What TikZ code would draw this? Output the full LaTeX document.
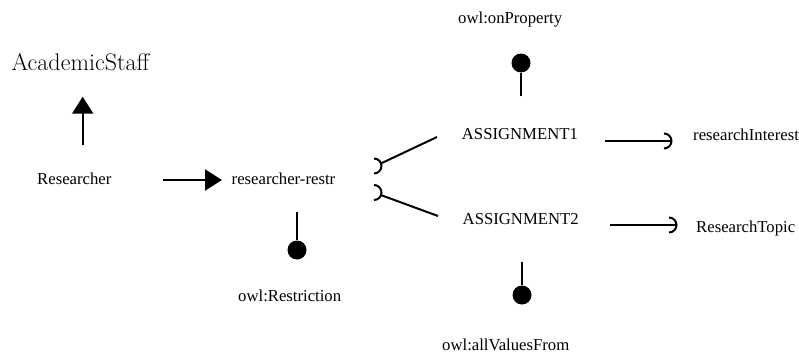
\documentclass[tikz,border=0pt]{standalone}
\usepackage{fontspec}
\newfontfamily\tnr{Liberation Serif}
\usetikzlibrary{arrows.meta}
\begin{document}
\begin{tikzpicture}[x=1pt,y=-1pt,
  lbl/.style={inner sep=0pt,anchor=base west,font=\tnr\fontsize{16.7}{20}\selectfont},
  biglbl/.style={inner sep=0pt,anchor=base west,font=\fontsize{24}{28}\selectfont},
  conn/.style={line width=2pt},
  isa/.style={conn,-{Triangle[length=17pt,width=21pt]}},
  ball/.style={circle,fill=black,inner sep=0pt,minimum size=19pt},
  barb/.style={line width=2pt}]
\useasboundingbox (0,0) rectangle (799,356);

% class and property labels
\node[biglbl] (acad)   at (11.5,70.5) {AcademicStaff};
\node[lbl]    (res)    at (37,184)    {Researcher};
\node[lbl]    (restr)  at (231.5,184) {researcher-restr};
\node[lbl]    (owlres) at (238,301)   {owl:Restriction};
\node[lbl]    (a1)     at (461.7,139) {ASSIGNMENT1};
\node[lbl]    (a2)     at (462.5,224) {ASSIGNMENT2};
\node[lbl]    (onprop) at (458,23)    {owl:onProperty};
\node[lbl]    (allv)   at (442,350)   {owl:allValuesFrom};
\node[lbl]    (ri)     at (693,140)   {researchInterest};
\node[lbl]    (rt)     at (696,232)   {ResearchTopic};

% subclass arrows
\coordinate (resUp)   at (82.7,145);
\coordinate (acadLow) at (82.7,96.7);
\draw[isa] (resUp) -- (acadLow);
\coordinate (resR)    at (163,180);
\coordinate (restrL)  at (222,180);
\draw[isa] (resR) -- (restrL);

% type lollipops
\node[ball] (b1) at (297,250) {};
\coordinate (restrLow) at (297,212);
\draw[conn] (restrLow) -- (b1);
\node[ball] (b2) at (521,63) {};
\coordinate (a1Up) at (521,96);
\draw[conn] (a1Up) -- (b2);
\node[ball] (b3) at (522,295) {};
\coordinate (a2Low) at (522,262);
\draw[conn] (a2Low) -- (b3);

% assignment links with arc ends
\coordinate (arcA) at (374,166);
\coordinate (arcB) at (374,192.5);
\draw[barb] ([shift={(0,-7.5)}]arcA) arc[start angle=90,end angle=-90,radius=7.5pt];
\draw[barb] ([shift={(0,-7.5)}]arcB) arc[start angle=90,end angle=-90,radius=7.5pt];
\coordinate (a1L) at (437,137);
\coordinate (a2L) at (438,216);
\draw[conn] ([shift={(7,-2.6)}]arcA) -- (a1L);
\draw[conn] ([shift={(7,2.6)}]arcB) -- (a2L);

% property arrows
\coordinate (a1R) at (605,141);
\coordinate (riArc) at (664,141);
\draw[conn] (a1R) -- ([xshift=7.5pt]riArc);
\draw[barb] ([shift={(0,-7.5)}]riArc) arc[start angle=90,end angle=-90,radius=7.5pt];
\coordinate (a2R) at (610,225);
\coordinate (rtArc) at (669,225);
\draw[conn] (a2R) -- ([xshift=7.5pt]rtArc);
\draw[barb] ([shift={(0,-7.5)}]rtArc) arc[start angle=90,end angle=-90,radius=7.5pt];
\end{tikzpicture}
\end{document}
